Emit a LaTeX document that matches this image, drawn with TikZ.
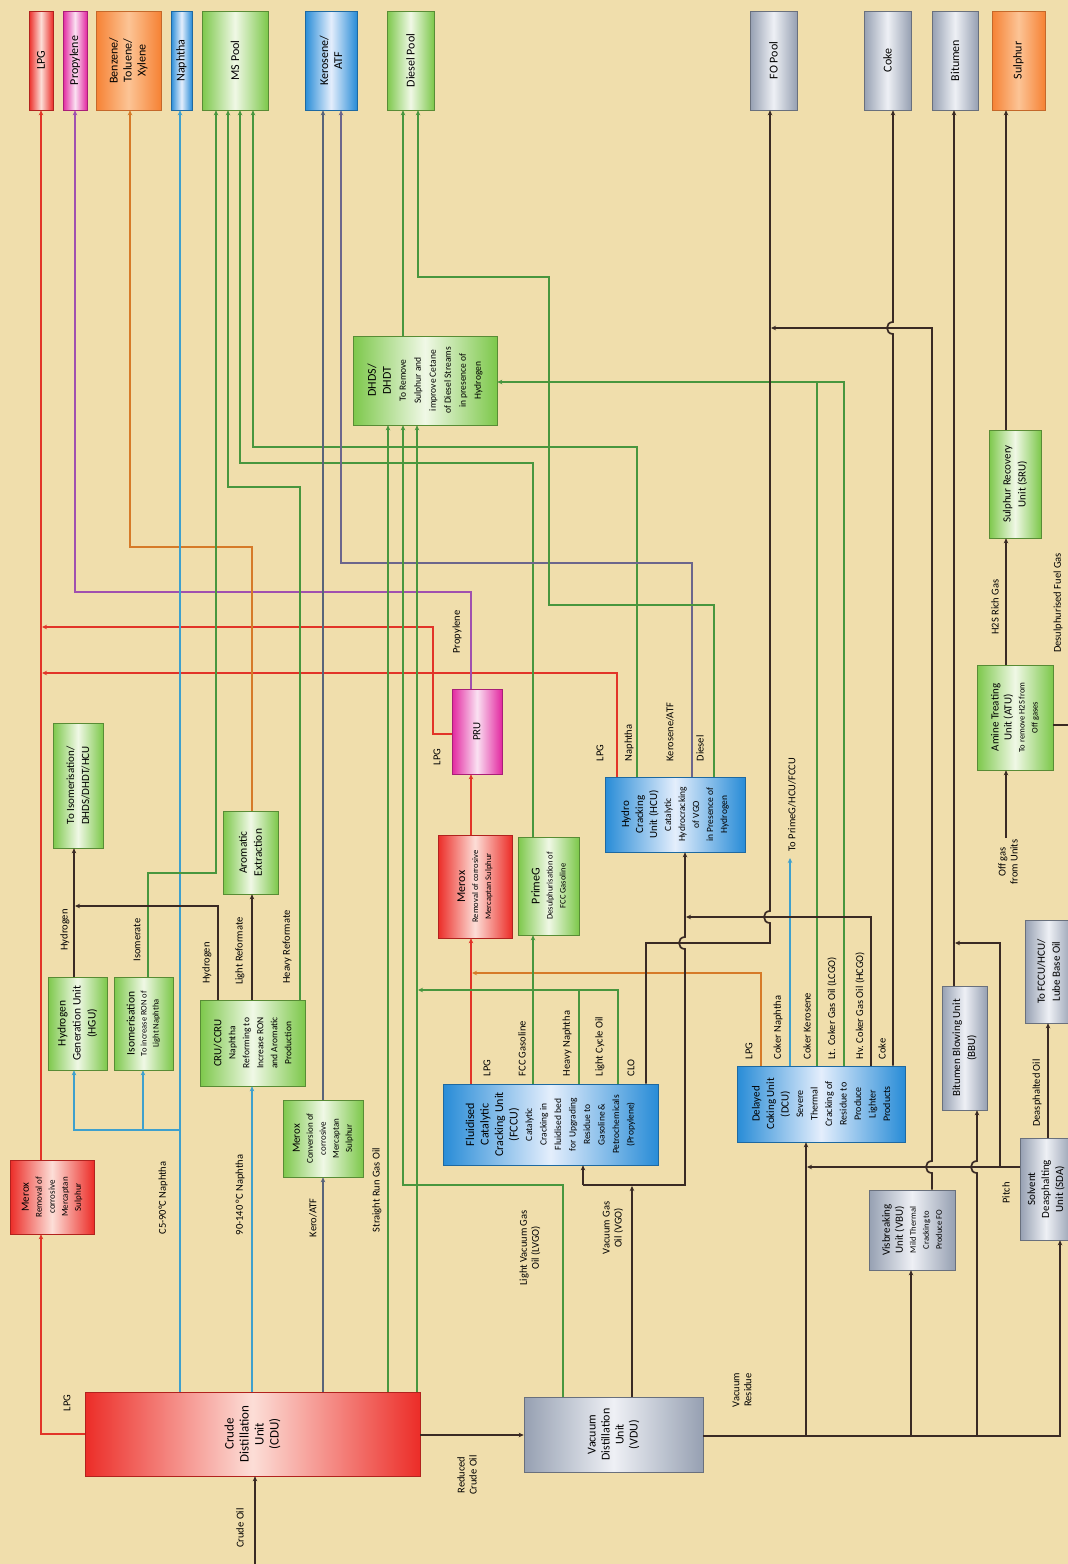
\documentclass[tikz,border=0pt]{standalone}
\usepackage{fontspec}
\setmainfont{Carlito}
\usepackage{graphicx}
\usetikzlibrary{arrows.meta}
\definecolor{bg}{RGB}{240,222,172}
\definecolor{cRed}{RGB}{226,52,40}
\definecolor{cPur}{RGB}{160,80,175}
\definecolor{cOra}{RGB}{214,122,40}
\definecolor{cBlu}{RGB}{62,160,205}
\definecolor{cGrn}{RGB}{72,150,62}
\definecolor{cDk}{RGB}{58,42,36}
\definecolor{cKer}{RGB}{88,100,122}
\definecolor{cHk}{RGB}{108,102,140}
\definecolor{rE}{RGB}{236,45,40}\definecolor{rM}{RGB}{252,222,215}
\definecolor{mE}{RGB}{226,40,160}\definecolor{mM}{RGB}{250,225,242}
\definecolor{oE}{RGB}{246,130,52}\definecolor{oM}{RGB}{252,196,150}
\definecolor{bE}{RGB}{40,140,215}\definecolor{bM}{RGB}{228,238,252}
\definecolor{gE}{RGB}{125,200,75}\definecolor{gM}{RGB}{240,248,230}
\definecolor{yE}{RGB}{150,160,178}\definecolor{yM}{RGB}{238,240,245}
\newcommand\fs[2]{\fontsize{#1}{#2}\selectfont}
% style, name, x1, y1, x2, y2, text, text options
\newcommand\ubx[8]{%
 \node[#1, inner sep=0pt, minimum width={(#5-#3)*1pt}, minimum height={(#6-#4)*1pt}] (#2) at ({(#3+#5)/2},{(#4+#6)/2}) {};
 \node[rotate=90, align=center, inner sep=0pt, #8] at (#2.center) {#7};}
\tikzset{
 redb/.style={draw=rE!75!black, line width=0.6pt, left color=rE, right color=rE, middle color=rM},
 magb/.style={draw=mE!75!black, line width=0.6pt, left color=mE, right color=mE, middle color=mM},
 orb/.style={draw=oE!80!black, line width=0.6pt, left color=oE, right color=oE, middle color=oM},
 blb/.style={draw=bE!75!black, line width=0.6pt, left color=bE, right color=bE, middle color=bM},
 grb/.style={draw=gE!70!black, line width=0.6pt, left color=gE, right color=gE, middle color=gM},
 gyb/.style={draw=yE!70!black, line width=0.6pt, left color=yE, right color=yE, middle color=yM},
 fl/.style={line width=1.3pt},
 rl/.style={fl, draw=cRed}, pl/.style={fl, draw=cPur}, ol/.style={fl, draw=cOra},
 bl/.style={fl, draw=cBlu}, gl/.style={fl, draw=cGrn}, kl/.style={fl, draw=cKer},
 hl/.style={fl, draw=cHk}, dl/.style={line width=1.7pt, draw=cDk},
 arr/.style={-{Stealth[length=5pt,width=4.5pt]}},
 lab/.style={rotate=90, align=center, inner sep=0.5pt, font=\fs{10.5}{12}},
}
\begin{document}
\begin{tikzpicture}[x=1pt,y=-1pt]
\useasboundingbox (0,0) rectangle (1068,1564);
\fill[bg] (0,0) rectangle (1068,1564);
% product boxes
\ubx{redb}{lpgP}{29}{11}{53}{110}{LPG}{font=\fs{12}{14}}
\ubx{magb}{propP}{63}{11}{87}{110}{Propylene}{font=\fs{12}{14}}
\ubx{orb}{btxP}{96}{11}{161}{110}{Benzene/\\Toluene/\\Xylene}{font=\fs{12}{14}}
\ubx{blb}{naphP}{171}{11}{192}{110}{Naphtha}{font=\fs{12}{14}}
\ubx{grb}{msP}{202}{11}{268}{110}{MS Pool}{font=\fs{12}{14}}
\ubx{blb}{keroP}{305}{11}{357}{110}{Kerosene/\\ATF}{font=\fs{12}{14}}
\ubx{grb}{dslP}{387}{11}{434}{110}{Diesel Pool}{font=\fs{12}{14}}
\ubx{gyb}{foP}{750}{11}{797}{110}{FO Pool}{font=\fs{12}{14}}
\ubx{gyb}{cokeP}{864}{11}{911}{110}{Coke}{font=\fs{12}{14}}
\ubx{gyb}{bitP}{932}{11}{978}{110}{Bitumen}{font=\fs{12}{14}}
\ubx{orb}{sulP}{992}{11}{1045}{110}{Sulphur}{font=\fs{12}{14}}
% units
\ubx{redb}{cdu}{85}{1392}{420}{1476}{Crude\\Distillation\\Unit\\(CDU)}{font=\fs{13}{15}}
\ubx{gyb}{vdu}{524}{1397}{703}{1472}{Vacuum\\Distillation\\Unit\\(VDU)}{font=\fs{12}{14}}
\ubx{redb}{meroxL}{10}{1160}{94}{1234}{{\fs{11}{13}Merox}\\Removal of\\corrosive\\Mercaptan\\Sulphur}{font=\fs{9}{13}}
\ubx{grb}{hgu}{48}{977}{107}{1070}{Hydrogen\\Generation Unit\\(HGU)}{font=\fs{11.5}{15}}
\ubx{grb}{isom}{114}{977}{173}{1070}{{\fs{11.5}{13}Isomerisation}\\To increase RON of\\Light Naphtha}{font=\fs{8.5}{12}}
\ubx{grb}{toiso}{53}{723}{103}{848}{To Isomerisation/\\DHDS/DHDT/HCU}{font=\fs{11}{15}}
\ubx{grb}{ccr}{200}{1000}{305}{1086}{{\fs{11}{13}CRU/CCRU}\\Naphtha\\Reforming to\\Increase RON\\and Aromatic\\Production}{font=\fs{9.5}{14}}
\ubx{grb}{arom}{223}{811}{278}{894}{Aromatic\\Extraction}{font=\fs{11.5}{15}}
\ubx{grb}{meroxK}{283}{1100}{363}{1177}{{\fs{11}{13}Merox}\\Conversion of\\corrosive\\Mercaptan\\Sulphur}{font=\fs{9}{13}}
\ubx{blb}{fccu}{443}{1084}{658}{1165}{{\fs{12}{14}Fluidised}\\{\fs{12}{14}Catalytic}\\{\fs{12}{14}Cracking Unit}\\{\fs{12}{14}(FCCU)}\\Catalytic\\Cracking in\\Fluidised bed\\for Upgrading\\Residue to\\Gasoline \&\\Petrochemicals\\(Propylene)}{font=\fs{9.5}{14.5}}
\ubx{redb}{meroxF}{438}{835}{512}{938}{{\fs{12}{14}Merox}\\Removal of corrosive\\Mercaptan Sulphur}{font=\fs{8.5}{13}}
\ubx{grb}{primeg}{518}{837}{579}{935}{{\fs{12}{14}PrimeG}\\Desulphurisation of\\FCC Gasoline}{font=\fs{8.5}{13}}
\ubx{magb}{pru}{452}{689}{502}{774}{PRU}{font=\fs{11}{13}}
\ubx{blb}{hcu}{605}{777}{745}{852}{{\fs{11}{13}Hydro}\\{\fs{11}{13}Cracking}\\{\fs{11}{13}Unit (HCU)}\\Catalytic\\Hydrocracking\\of VGO\\in Presence of\\Hydrogen}{font=\fs{9.5}{14}}
\ubx{grb}{dhds}{353}{336}{497}{425}{{\fs{12}{14}DHDS/}\\{\fs{12}{14}DHDT}\\To Remove\\Sulphur and\\improve Cetane\\of Diesel Streams\\in presence of\\Hydrogen}{font=\fs{9.5}{15}}
\ubx{blb}{dcu}{737}{1066}{905}{1142}{{\fs{11}{13}Delayed}\\{\fs{11}{13}Coking Unit}\\{\fs{11}{13}(DCU)}\\Severe\\Thermal\\Cracking of\\Residue to\\Produce\\Lighter\\Products}{font=\fs{10}{14.5}}
\ubx{gyb}{vbu}{869}{1190}{955}{1270}{{\fs{11}{13}Visbreaking}\\{\fs{11}{13}Unit (VBU)}\\Mild Thermal\\Cracking to\\Produce FO}{font=\fs{8.5}{13}}
\ubx{gyb}{bbu}{942}{986}{987}{1110}{Bitumen Blowing Unit\\(BBU)}{font=\fs{11}{15}}
\ubx{gyb}{sda}{1020}{1138}{1072}{1240}{Solvent\\Deasphalting\\Unit (SDA)}{font=\fs{11}{14}}
\ubx{gyb}{tofcc}{1025}{920}{1072}{1023}{To FCCU/HCU/\\Lube Base Oil}{font=\fs{11}{15}}
\ubx{grb}{atu}{977}{665}{1053}{770}{{\fs{11}{13}Amine Treating}\\{\fs{11}{13}Unit (ATU)}\\To remove H2S from\\Off gases}{font=\fs{8.5}{13}}
\ubx{grb}{sru}{989}{430}{1041}{538}{Sulphur Recovery\\Unit (SRU)}{font=\fs{11}{15}}
\coordinate (crude) at (255,1564);
\coordinate (offg) at (1006,838);
\coordinate (dfg) at (1068,725);
% ---- connectors
\draw[rl,arr] (cdu.west |- 0,1434) -- (41,1434) -- (41,0 |- meroxL.south);
\draw[rl,arr] (41,0 |- meroxL.north) -- (41,0 |- lpgP.south);
\draw[rl,arr] (pru.west |- 0,734) -- (433,734) -- (433,627) -- (42,627);
\draw[rl,arr] (617,0 |- hcu.north) -- (617,673) -- (42,673);
\draw[pl,arr] (471,0 |- pru.north) -- (471,592) -- (75,592) -- (75,0 |- propP.south);
\draw[rl,arr] (471,0 |- fccu.north) -- (471,0 |- meroxF.south);
\draw[rl,arr] (471,0 |- meroxF.north) -- (471,0 |- pru.south);
\draw[ol,arr] (761,0 |- dcu.north) -- (761,973) -- (472,973);
\draw[ol,arr] (252,0 |- arom.north) -- (252,547) -- (130,547) -- (130,0 |- btxP.south);
\draw[bl,arr] (180,0 |- cdu.north) -- (180,0 |- naphP.south);
\draw[bl,arr] (180,1130) -- (74,1130) -- (74,0 |- hgu.south);
\draw[bl,arr] (143,1130) -- (143,0 |- isom.south);
\draw[bl,arr] (252,0 |- cdu.north) -- (252,0 |- ccr.south);
\draw[gl,arr] (148,0 |- isom.north) -- (148,873) -- (216,873) -- (216,0 |- msP.south);
\draw[gl,arr] (300,0 |- ccr.north) -- (300,487) -- (228,487) -- (228,0 |- msP.south);
\draw[gl,arr] (533,0 |- primeg.north) -- (533,463) -- (240,463) -- (240,0 |- msP.south);
\draw[gl,arr] (637,0 |- hcu.north) -- (637,447) -- (253,447) -- (253,0 |- msP.south);
\draw[gl,arr] (533,0 |- fccu.north) -- (533,0 |- primeg.south);
\draw[kl,arr] (323,0 |- cdu.north) -- (323,0 |- meroxK.south);
\draw[kl,arr] (323,0 |- meroxK.north) -- (323,0 |- keroP.south);
\draw[hl,arr] (692,0 |- hcu.north) -- (692,563) -- (341,563) -- (341,0 |- keroP.south);
\draw[gl,arr] (403,0 |- dhds.north) -- (403,0 |- dslP.south);
\draw[gl,arr] (714,0 |- hcu.north) -- (714,605) -- (549,605) -- (549,277) -- (418,277) -- (418,0 |- dslP.south);
\draw[gl,arr] (388,0 |- cdu.north) -- (388,0 |- dhds.south);
\draw[gl,arr] (417,0 |- cdu.north) -- (417,0 |- dhds.south);
\draw[gl,arr] (563,0 |- vdu.north) -- (563,1185) -- (403,1185) -- (403,0 |- dhds.south);
\draw[gl,arr] (618,0 |- fccu.north) -- (618,990) -- (418,990);
\draw[gl] (579,0 |- fccu.north) -- (579,990);
\draw[gl] (817,0 |- dcu.north) -- (817,382);
\draw[gl,arr] (844,0 |- dcu.north) -- (844,382) -- (dhds.east |- 0,382);
\draw[bl,arr] (790,0 |- dcu.north) -- (790,858);
\draw[dl,arr] (871,0 |- dcu.north) -- (871,917) -- (686,917);
\draw[dl,arr] (646,0 |- fccu.north) -- (646,943) -- (770,943) -- (770,923) .. controls (762,923) and (762,911) .. (770,911) -- (770,0 |- foP.south);
\draw[dl,arr] (893,0 |- dcu.north) -- (893,334) .. controls (885,334) and (885,322) .. (893,322) -- (893,0 |- cokeP.south);
\draw[dl,arr] (632,0 |- vdu.north) -- (632,1186);
\draw[dl,arr] (583,1185) -- (583,0 |- fccu.south);
\draw[dl,arr] (583,1185) -- (685,1185) -- (685,949) .. controls (677,949) and (677,937) .. (685,937) -- (685,0 |- hcu.south);
\draw[dl,arr] (cdu.east |- 0,1435) -- (vdu.west |- 0,1435);
\draw[dl,arr] (crude) -- (255,0 |- cdu.south);
\draw[dl,arr] (vdu.east |- 0,1436) -- (1060,1436) -- (1060,0 |- sda.south);
\draw[dl,arr] (806,1436) -- (806,0 |- dcu.south);
\draw[dl,arr] (911,1436) -- (911,0 |- vbu.south);
\draw[dl,arr] (977,1436) -- (977,1173) .. controls (969,1173) and (969,1161) .. (977,1161) -- (977,0 |- bbu.south);
\draw[dl,arr] (932,0 |- vbu.north) -- (932,1173) .. controls (924,1173) and (924,1161) .. (932,1161) -- (932,328) -- (771,328);
\draw[dl,arr] (sda.west |- 0,1167) -- (807,1167);
\draw[dl,arr] (1000,1167) -- (1000,943) -- (955,943);
\draw[dl,arr] (954,0 |- bbu.north) -- (954,0 |- bitP.south);
\draw[dl,arr] (1048,0 |- sda.north) -- (1048,0 |- tofcc.south);
\draw[dl,arr] (offg) -- (1006,0 |- atu.south);
\draw[dl,arr] (1006,0 |- atu.north) -- (1006,0 |- sru.south);
\draw[dl,arr] (1006,0 |- sru.north) -- (1006,0 |- sulP.south);
\draw[dl] (atu.east |- 0,725) -- (dfg);
\draw[dl,arr] (74,0 |- hgu.north) -- (74,0 |- toiso.south);
\draw[dl,arr] (218,0 |- ccr.north) -- (218,906) -- (75,906);
\draw[dl,arr] (252,0 |- ccr.north) -- (252,0 |- arom.south);
% ---- labels
\node[lab] (l1) at (67,1403) {LPG};
\node[lab] (l2) at (163,1198) {C5-90°C Naphtha};
\node[lab] (l3) at (240,1195) {90-140 °C Naphtha};
\node[lab] (l4) at (313,1218) {Kero/ATF};
\node[lab] (l5) at (377,1190) {Straight Run Gas Oil};
\node[lab] (l6) at (240,1528) {Crude Oil};
\node[lab] (l7) at (467,1475) {Reduced\\Crude Oil};
\node[lab] (l8) at (530,1248) {Light Vacuum Gas\\Oil (LVGO)};
\node[lab] (l9) at (613,1228) {Vacuum Gas\\Oil (VGO)};
\node[lab] (l10) at (742,1390) {Vacuum\\Residue};
\node[lab] (l11) at (1006,1193) {Pitch};
\node[lab] (l12) at (1037,1093) {Deasphalted Oil};
\node[lab] (l13) at (1008,862) {Off gas\\from Units};
\node[lab] (l14) at (995,607) {H2S Rich Gas};
\node[lab] (l15) at (1058,603) {Desulphurised Fuel Gas};
\node[lab,anchor=west] (l16) at (792,852) {To PrimeG/HCU/FCCU};
\node[lab,anchor=west] (f1) at (487,1077) {LPG};
\node[lab,anchor=west] (f2) at (522,1077) {FCC Gasoline};
\node[lab,anchor=west] (f3) at (567,1077) {Heavy Naphtha};
\node[lab,anchor=west] (f4) at (600,1077) {Light Cycle Oil};
\node[lab,anchor=west] (f5) at (631,1077) {CLO};
\node[lab,anchor=west] (d1) at (749,1060) {LPG};
\node[lab,anchor=west] (d2) at (778,1060) {Coker Naphtha};
\node[lab,anchor=west] (d3) at (807,1060) {Coker Kerosene};
\node[lab,anchor=west] (d4) at (832,1060) {Lt. Coker Gas Oil (LCGO)};
\node[lab,anchor=west] (d5) at (860,1060) {Hv. Coker Gas Oil (HCGO)};
\node[lab,anchor=west] (d6) at (882,1060) {Coke};
\node[lab,anchor=west] (h1) at (600,762) {LPG};
\node[lab,anchor=west] (h2) at (629,762) {Naphtha};
\node[lab,anchor=west] (h3) at (670,762) {Kerosene/ATF};
\node[lab,anchor=west] (h4) at (700,762) {Diesel};
\node[lab] (p1) at (457,632) {Propylene};
\node[lab] (p2) at (437,757) {LPG};
\node[lab] (g1) at (65,930) {Hydrogen};
\node[lab] (g2) at (137,940) {Isomerate};
\node[lab] (g3) at (207,963) {Hydrogen};
\node[lab] (g4) at (240,951) {Light Reformate};
\node[lab] (g5) at (287,947) {Heavy Reformate};
\end{tikzpicture}
\end{document}
